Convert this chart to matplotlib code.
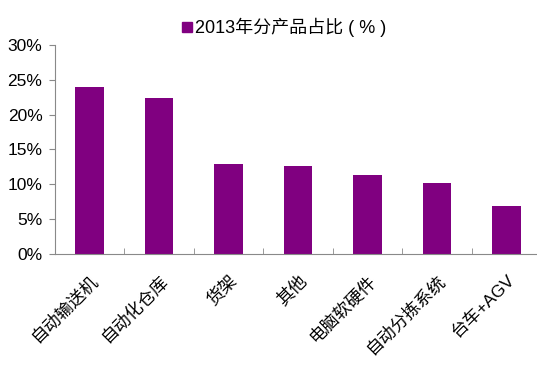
import numpy as np
import matplotlib.pyplot as plt
from matplotlib.lines import Line2D
from matplotlib.ticker import PercentFormatter

plt.rcParams['font.family'] = ['Liberation Sans', 'Noto Sans CJK SC', 'DejaVu Sans']

# data
categories = ["自动输送机", "自动化仓库", "货架", "其他", "电脑软硬件", "自动分拣系统", "台车+AGV"]
shares = [24.0, 22.4, 12.9, 12.6, 11.3, 10.2, 6.9]
legend_label = "2013年分产品占比 ( % )"

color = "#800080"
axis_gray = "#898989"

fig = plt.figure(figsize=(5.37, 3.68), dpi=100)
# axis runs off the right edge like in the original
ax = fig.add_axes([0.1024, 0.31, 0.8976, 0.568])

x = np.arange(len(categories))
ax.bar(x, shares, width=0.41, color=color)

ax.set_xlim(-0.5, len(categories) - 0.56)
ax.set_ylim(0, 30)
ax.set_yticks(np.arange(0, 31, 5))
ax.yaxis.set_major_formatter(PercentFormatter(decimals=0))

ax.set_xticks(x)
ax.set_xticklabels(categories, rotation=45, ha="right", rotation_mode="anchor")
ax.set_xticks(np.arange(0.5, len(categories) - 0.5, 1), minor=True)
ax.tick_params(axis="x", which="major", length=0, pad=13, labelsize=12.5)
ax.tick_params(axis="x", which="minor", direction="in", length=4, color=axis_gray)
ax.tick_params(axis="y", direction="out", length=4, color=axis_gray, labelsize=12.5, pad=5)

for side in ["top", "right"]:
    ax.spines[side].set_visible(False)
for side in ["left", "bottom"]:
    ax.spines[side].set_color(axis_gray)

handle = Line2D([], [], marker="s", linestyle="none", color=color, markersize=7)
fig.legend([handle], [legend_label], loc="center", bbox_to_anchor=(0.527, 0.925),
           frameon=False, fontsize=13, handletextpad=0.0, handlelength=0.8)

fig.savefig("out.png", dpi=100)
